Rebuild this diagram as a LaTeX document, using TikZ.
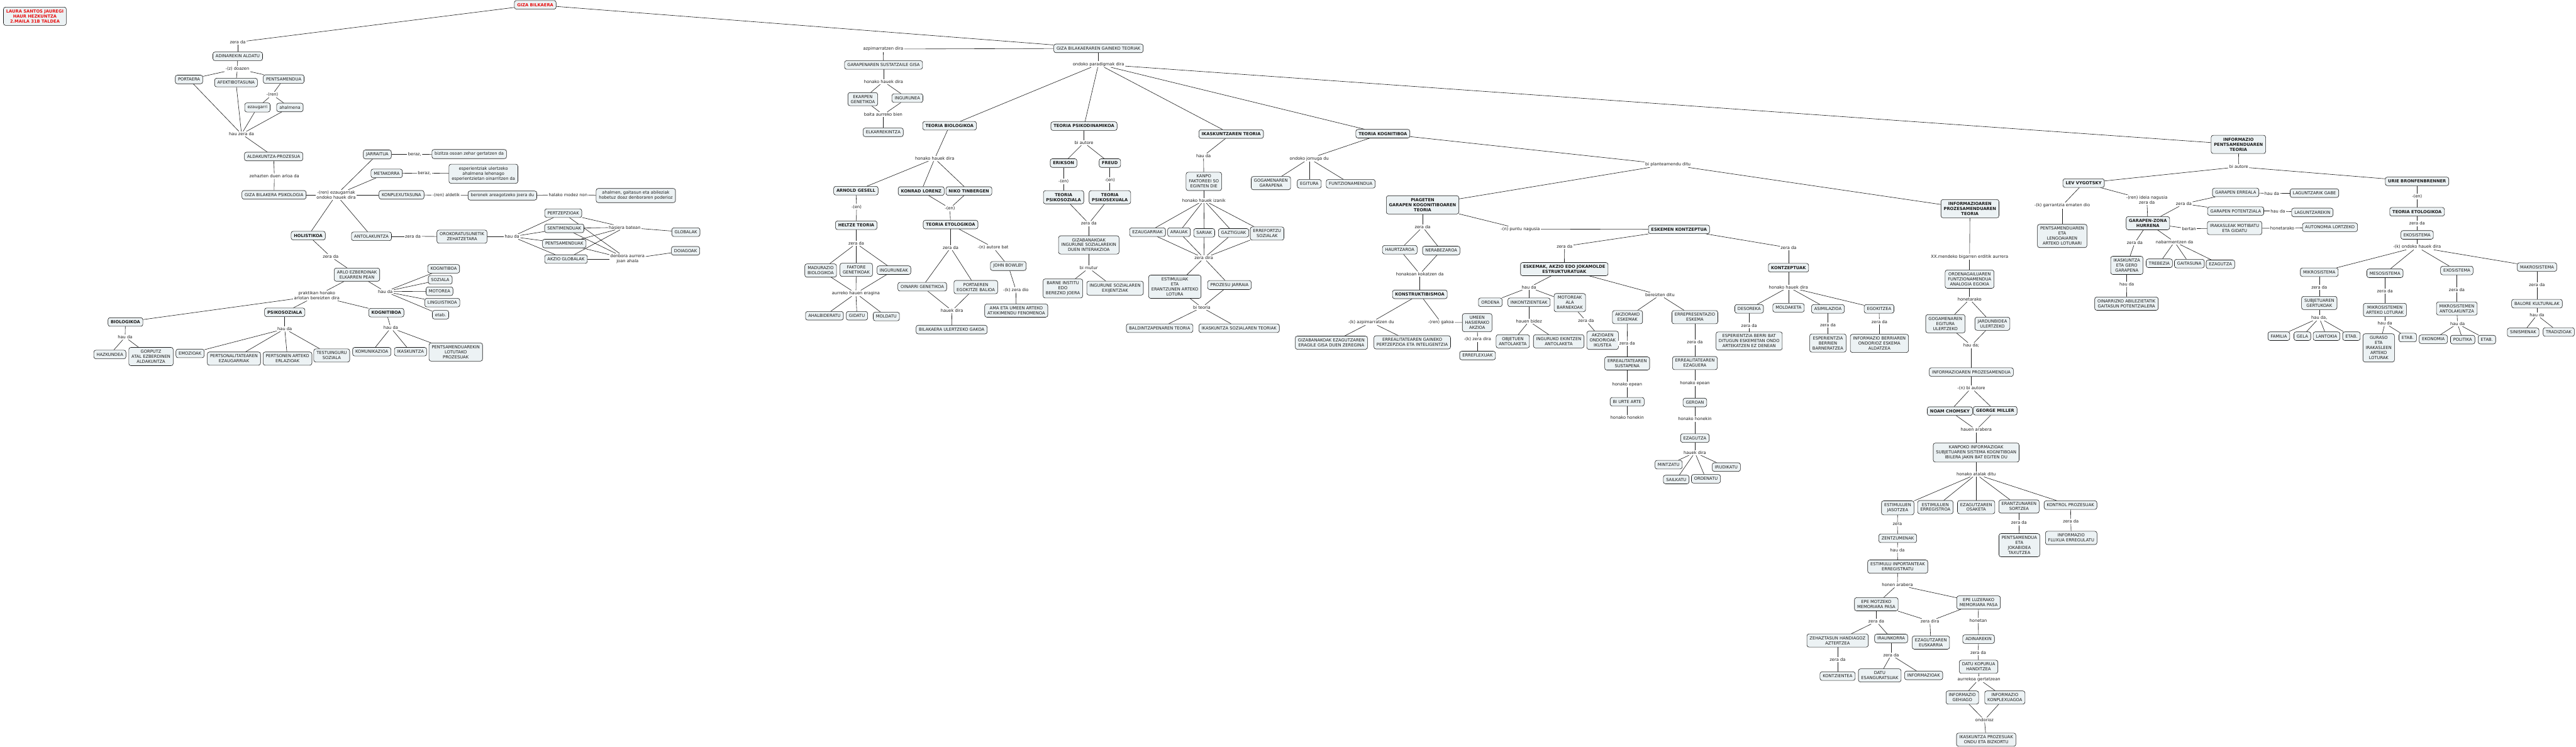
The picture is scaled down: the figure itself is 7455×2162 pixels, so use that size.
\documentclass[tikz,border=0pt]{standalone}
\usepackage{fontspec}
\setmainfont{DejaVu Sans}
\usetikzlibrary{backgrounds}
\definecolor{cfill}{RGB}{236,242,244}
\definecolor{lred}{RGB}{232,16,16}
\definecolor{ink}{RGB}{25,25,25}
\begin{document}
\fontsize{12.2}{14.5}\selectfont
\begin{tikzpicture}[x=1pt,y=-1pt,
  cn/.style={draw=ink, fill=cfill, rounded corners=6pt, inner xsep=8pt, inner ysep=7.3pt, minimum height=25pt, align=center, line width=1.1pt, text=ink},
  bn/.style={cn, font=\bfseries},
  lb/.style={fill=white, inner sep=2.5pt, align=center, text=ink},
  ed/.style={draw=ink, line width=1.1pt}]
\useasboundingbox (0,0) rectangle (7455,2162);
% ---------- legend and root
\node[cn, text=lred, font=\bfseries] (leg) at (101,47) {LAURA SANTOS JAUREGI\\HAUR HEZKUNTZA\\2.MAILA 31B TALDEA};
\node[cn, text=lred, font=\bfseries] (root) at (1549,14) {GIZA BILKAERA};
% ---------- left branch
\node[lb] (l1) at (688,122) {zera da};
\node[cn] (adin) at (688,163) {ADINAREKIN ALDATU};
\node[lb] (l2) at (687,199) {-(z) doazen};
\node[cn] (port) at (547,230) {PORTAERA};
\node[cn] (afek) at (683,239) {AFEKTIBOTASUNA};
\node[cn] (pents) at (821,229) {PENTSAMENDUA};
\node[lb] (l3) at (788,274) {-(ren)};
\node[cn] (ezau) at (745,311) {ezaugarri};
\node[cn] (ahal) at (839,311) {ahalmena};
\node[lb] (l4) at (699,388) {hau zera da};
\node[cn] (aldak) at (792,453) {ALDAKUNTZA-PROZESUA};
\node[lb] (l5) at (794,510) {zehazten duen arloa da};
\node[cn] (gbp) at (793,564) {GIZA BILAKERA PSIKOLOGIA};
\node[lb] (l6) at (973,564) {-(ren) ezaugarriak\\ondoko hauek dira};
\node[bn] (holis) at (892,682) {HOLISTIKOA};
\node[cn] (jarr) at (1092,447) {JARRAITUA};
\node[lb] (l7) at (1200,447) {beraz,};
\node[cn] (biz) at (1358,446) {bizitza osoan zehar gertatzen da};
\node[cn] (meta) at (1119,502) {METAKORRA};
\node[lb] (l8) at (1228,501) {beraz,};
\node[cn] (esper) at (1399,503) {esperientziak ulertzeko\\ahalmena lehenago\\esperientzietan oinarritzen da};
\node[cn] (konp) at (1162,564) {KONPLEXUTASUNA};
\node[lb] (l9) at (1291,565) {-(ren) aldetik};
\node[cn] (beron) at (1454,566) {beronek areagotzeko joera du};
\node[lb] (l10) at (1644,564) {halako modez non};
\node[cn] (ahalm) at (1840,566) {ahalmen, gaitasun eta abileziak\\hobetuz doaz denboraren poderioz};
\node[cn] (antol) at (1075,684) {ANTOLAKUNTZA};
\node[lb] (l11) at (1195,684) {zera da};
\node[cn] (orok) at (1337,685) {OROKORATUSUNETIK\\ZEHATZETARA};
\node[lb] (l12) at (1482,685) {hau da};
\node[cn] (pertz) at (1630,617) {PERTZEPZIOAK};
\node[cn] (senti) at (1633,661) {SENTIMENDUAK};
\node[cn] (pentsk) at (1633,705) {PENTSAMENDUAK};
\node[cn] (akzio) at (1638,750) {AKZIO GLOBALAK};
\node[lb] (l13) at (1808,658) {hasiera batean};
\node[cn] (glob) at (1985,672) {GLOBALAK};
\node[lb] (l14) at (1816,750) {denbora aurrera\\joan ahala};
\node[cn] (doia) at (1984,726) {DOIAGOAK};
\node[lb] (l15) at (957,743) {zera da};
\node[cn] (arlo) at (1033,795) {ARLO EZBERDINAK\\ELKARREN PEAN};
\node[lb] (l16) at (1115,844) {hau da};
\node[cn] (kog1) at (1284,778) {KOGNITIBOA};
\node[cn] (soz) at (1274,810) {SOZIALA};
\node[cn] (moto) at (1272,843) {MOTOREA};
\node[cn] (ling) at (1280,876) {LINGUISTIKOA};
\node[cn] (etab1) at (1275,911) {etab.};
\node[lb] (l17) at (917,856) {praktikan honako\\arlotan bereizten dira};
\node[bn] (biol) at (363,932) {BIOLOGIKOA};
\node[lb] (l18) at (362,976) {hau da};
\node[cn] (hazk) at (318,1026) {HAZKUNDEA};
\node[cn] (gorp) at (437,1032) {GORPUTZ\\ATAL EZBERDINEN\\ALDAKUNTZA};
\node[bn] (psiko) at (824,904) {PSIKOSOZIALA};
\node[lb] (l19) at (824,952) {hau da};
\node[cn] (emoz) at (550,1023) {EMOZIOAK};
\node[cn] (perts) at (677,1038) {PERTSONALITATEAREN\\EZAUGARRIAK};
\node[cn] (pertsa) at (832,1038) {PERTSONEN ARTEKO\\ERLAZIOAK};
\node[cn] (testu) at (960,1029) {TESTUINGURU\\SOZIALA};
\node[bn] (kog2) at (1118,905) {KOGNITIBOA};
\node[lb] (l20) at (1131,949) {hau da};
\node[cn] (komu) at (1076,1018) {KOMUNIKAZIOA};
\node[cn] (ikas) at (1188,1018) {IKASKUNTZA};
\node[cn] (pentsl) at (1319,1019) {PENTSAMENDUAREKIN\\LOTUTAKO\\PROZESUAK};
% ---------- middle
\node[cn] (gbgt) at (3179,140) {GIZA BILAKAERAREN GAINEKO TEORIAK};
\node[lb] (m1) at (2556,142) {azpimarratzen dira};
\node[cn] (gss) at (2557,188) {GARAPENAREN SUSTATZAILE GISA};
\node[lb] (m2) at (2557,236) {honako hauek dira};
\node[cn] (ekar) at (2497,287) {EKARPEN\\GENETIKOA};
\node[cn] (ingu) at (2626,284) {INGURUNEA};
\node[lb] (m3) at (2556,332) {baita aurreko bien};
\node[cn] (elkar) at (2556,383) {ELKARREKINTZA};
\node[lb] (m4) at (3179,186) {ondoko paradigmak dira};
\node[bn] (tbio) at (2748,364) {TEORIA BIOLOGIKOA};
\node[lb] (m5) at (2705,459) {honako hauek dira};
\node[bn] (arn) at (2477,552) {ARNOLD GESELL};
\node[bn] (kon) at (2666,553) {KONRAD LORENZ};
\node[bn] (nik) at (2804,553) {NIKO TINBERGEN};
\node[lb] (m6) at (2479,599) {-(en)};
\node[lb] (m7) at (2749,603) {-(en)};
\node[bn] (helt) at (2478,652) {HELTZE TEORIA};
\node[bn] (teto) at (2751,650) {TEORIA ETOLOGIKOA};
\node[lb] (m8) at (2478,705) {zera da};
\node[cn] (madu) at (2375,783) {MADURAZIO\\BIOLOGIKOA};
\node[cn] (fakt) at (2478,781) {FAKTORE\\GENETIKOAK};
\node[cn] (ingk) at (2587,782) {INGURUNEAK};
\node[lb] (m9) at (2477,849) {aurreko hauen eragina};
\node[cn] (ahalb) at (2386,914) {AHALBIDERATU};
\node[cn] (gida) at (2480,914) {GIDATU};
\node[cn] (mold) at (2565,916) {MOLDATU};
\node[lb] (m10) at (2751,717) {zera da};
\node[lb] (m11) at (2874,716) {-(n) autore bat};
\node[cn] (oina) at (2669,830) {OINARRI GENETIKOA};
\node[cn] (porte) at (2824,831) {PORTAEREN\\EGOKITZE BALIOA};
\node[lb] (m12) at (2755,899) {hauek dira};
\node[cn] (bilak) at (2754,954) {BILAKAERA ULERTZEKO GAKOA};
\node[cn] (bowl) at (2918,770) {JOHN BOWLBY};
\node[lb] (m13) at (2940,839) {-(k) zera dio};
\node[cn] (ama) at (2941,899) {AMA ETA UMEEN ARTEKO\\ATXIKIMENDU FENOMENOA};
\node[bn] (tpsi) at (3137,365) {TEORIA PSIKODINAMIKOA};
\node[lb] (m14) at (3137,413) {bi autore};
\node[bn] (erik) at (3078,472) {ERIKSON};
\node[bn] (freud) at (3212,472) {FREUD};
\node[lb] (m15) at (3078,525) {-(en)};
\node[lb] (m16) at (3212,522) {-(en)};
\node[bn] (tpsz) at (3078,571) {TEORIA\\PSIKOSOZIALA};
\node[bn] (tpsx) at (3212,571) {TEORIA\\PSIKOSEXUALA};
\node[lb] (m17) at (3151,647) {zera da};
\node[cn] (gizi) at (3151,709) {GIZABANAKOAK\\INGURUNE SOZIALAREKIN\\DUEN INTERAKZIOA};
\node[lb] (m18) at (3151,776) {bi mutur};
\node[cn] (barne) at (3076,835) {BARNE INSTITU\\EDO\\BEREZKO JOERA};
\node[cn] (ingsoz) at (3227,834) {INGURUNE SOZIALAREN\\EXIJENTZIAK};
\node[bn] (ikt) at (3563,388) {IKASKUNTZAREN TEORIA};
\node[lb] (m19) at (3483,451) {hau da};
\node[cn] (kanpo) at (3484,525) {KANPO\\FAKTOREEI SO\\EGINTEN DIE};
\node[lb] (m20) at (3484,580) {honako hauek izanik};
\node[cn] (ezg) at (3321,672) {EZAUGARRIAK};
\node[cn] (arau) at (3412,672) {ARAUAK};
\node[cn] (sari) at (3485,674) {SARIAK};
\node[cn] (gazt) at (3570,674) {GAZTIGUAK};
\node[cn] (erref) at (3667,676) {ERREFORTZU\\SOZIALAK};
\node[lb] (m21) at (3484,747) {zera dira};
\node[cn] (estim) at (3400,830) {ESTIMULUAK\\ETA\\ERANTZUNEN ARTEKO\\LOTURA};
\node[cn] (proz) at (3558,825) {PROZESU JARRAIA};
\node[lb] (m22) at (3478,890) {bi teoria};
\node[cn] (bald) at (3356,950) {BALDINTZAPENAREN TEORIA};
\node[cn] (ikss) at (3586,950) {IKASKUNTZA SOZIALAREN TEORIAK};
\node[bn] (tkog) at (4002,387) {TEORIA KOGNITIBOA};
\node[lb] (m23) at (3789,459) {ondoko jomuga du};
\node[cn] (goga) at (3678,530) {GOGAMENAREN\\GARAPENA};
\node[cn] (egit) at (3789,532) {EGITURA};
\node[cn] (funt) at (3909,532) {FUNTZIONAMENDUA};
\node[lb] (m24) at (4827,476) {bi planteamendu ditu};
\node[bn] (piag) at (4117,593) {PIAGETEN\\GARAPEN KOGONITIBOAREN\\TEORIA};
\node[lb] (m25) at (4117,657) {zera da};
\node[cn] (haur) at (4051,723) {HAURTZAROA};
\node[cn] (nera) at (4171,725) {NERABEZAROA};
\node[lb] (m26) at (4109,793) {honakoan kokatzen da};
\node[bn] (kons) at (4109,852) {KONSTRUKTIBISMOA};
\node[lb] (m27) at (3968,933) {-(k) azpimarratzen du};
\node[cn] (gizez) at (3853,992) {GIZABANAKOAK EZAGUTZAREN\\ERAGILE GISA DUEN ZEREGINA};
\node[cn] (errg) at (4087,991) {ERREALITATEAREN GAINEKO\\PERTZEPZIOA ETA INTELIGENTZIA};
\node[lb] (m28) at (4170,933) {-(ren) gakoa};
\node[cn] (umeen) at (4275,934) {UMEEN\\HASIERAKO\\AKZIOA};
\node[lb] (m29) at (4276,982) {-(k) zera dira};
\node[cn] (errefl) at (4276,1029) {ERREFLEXUAK};
\node[lb] (m30) at (4400,663) {-(n) puntu nagusia};
\node[bn] (eskk) at (4859,664) {ESKEMEN KONTZEPTUA};
\node[lb] (m31) at (4528,713) {zera da};
\node[bn] (eskem) at (4527,779) {ESKEMAK, AKZIO EDO JOKAMOLDE\\ESTRUKTURATUAK};
\node[lb] (m32) at (4425,832) {hau da};
\node[cn] (orde) at (4313,875) {ORDENA};
\node[cn] (inko) at (4425,875) {INKONTZIENTEAK};
\node[cn] (motor) at (4543,876) {MOTOREAK\\ALA\\BARNEKOAK};
\node[lb] (m33) at (4425,930) {hauen bidez};
\node[cn] (objt) at (4378,988) {OBJETUEN\\ANTOLAKETA};
\node[cn] (ingur) at (4511,988) {INGURUKO EKINTZEN\\ANTOLAKETA};
\node[lb] (m34) at (4590,929) {zera da};
\node[cn] (akond) at (4638,985) {AKZIOAEN\\ONDORIOAK\\IKUSTEA};
\node[lb] (m35) at (4804,854) {bereizten ditu};
\node[cn] (akzr) at (4710,918) {AKZIORAKO\\ESKEMAK};
\node[lb] (m36) at (4709,994) {zera da};
\node[cn] (errs) at (4709,1052) {ERREALITATEAREN\\SUSTAPENA};
\node[lb] (m37) at (4709,1113) {honako epean};
\node[cn] (biurt) at (4709,1163) {BI URTE ARTE};
\node[lb] (m38) at (4709,1209) {honako honekin};
\node[cn] (errep) at (4905,918) {ERREPRESENTAZIO\\ESKEMA};
\node[lb] (m40) at (4905,991) {zera da};
\node[cn] (erre) at (4905,1051) {ERREALITATEAREN\\EZAGUERA};
\node[lb] (m41) at (4905,1109) {honako epean};
\node[cn] (gero) at (4905,1165) {GEROAN};
\node[lb] (m42) at (4905,1213) {honako honekin};
\node[cn] (ezag) at (4905,1268) {EZAGUTZA};
\node[lb] (m43) at (4905,1310) {hauek dira};
\node[cn] (mintz) at (4829,1345) {MINTZATU};
\node[cn] (sail) at (4851,1388) {SAILKATU};
\node[cn] (ordn) at (4937,1386) {ORDENATU};
\node[cn] (irud) at (4996,1352) {IRUDIKATU};
\node[lb] (m44) at (5176,717) {zera da};
\node[bn] (kontz) at (5176,775) {KONTZEPTUAK};
\node[lb] (m45) at (5176,831) {honako hauek dira};
\node[cn] (deso) at (5062,894) {DESOREKA};
\node[cn] (moldk) at (5176,891) {MOLDAKETA};
\node[cn] (asim) at (5290,894) {ASIMILAZIOA};
\node[cn] (egok) at (5438,894) {EGOKITZEA};
\node[lb] (m46) at (5062,942) {zera da};
\node[cn] (espb) at (5062,987) {ESPERIENTZIA BERRI BAT\\DITUGUN ESKEMETAN ONDO\\ARTEKATZEN EZ DENEAN};
\node[lb] (m47) at (5290,941) {zera da};
\node[cn] (espbr) at (5290,993) {ESPERIENTZIA\\BERRIEN\\BARNERATZEA};
\node[lb] (m48) at (5439,931) {zera da};
\node[cn] (infb) at (5439,994) {INFORMAZIO BERRIAREN\\ONDORIOZ ESKEMA\\ALDATZEA};
% ---------- information processing
\node[bn] (ipt) at (5701,604) {INFORMAZIOAREN\\PROZESAMENDUAREN\\TEORIA};
\node[lb] (r1) at (5700,743) {XX.mendeko bigarren erditik aurrera};
\node[cn] (orden) at (5700,808) {ORDENAGAILUAREN\\FUNTZIONAMENDUA\\ANALOGIA EGOKIA};
\node[lb] (r2) at (5700,866) {honetarako};
\node[cn] (gogeg) at (5630,937) {GOGAMENAREN\\EGITURA\\ULERTZEKO};
\node[cn] (jard) at (5766,937) {JARDUNBIDEA\\ULERTZEKO};
\node[lb] (r3) at (5705,1000) {hau da;};
\node[cn] (infp) at (5705,1077) {INFORMAZIOAREN PROZESAMENDUA};
\node[lb] (r4) at (5705,1123) {-(n) bi autore};
\node[bn] (noam) at (5643,1190) {NOAM CHOMSKY};
\node[bn] (geor) at (5774,1189) {GEORGE MILLER};
\node[lb] (r5) at (5719,1244) {hauen arabera};
\node[cn] (kanpok) at (5719,1310) {KANPOKO INFORMAZIOAK\\SUBJETUAREN SISTEMA KOGNITIBOAN\\IBILERA JAKIN BAT EGITEN DU};
\node[lb] (r6) at (5719,1373) {honako atalak ditu};
\node[cn] (estj) at (5492,1470) {ESTIMULUEN\\JASOTZEA};
\node[cn] (este) at (5601,1468) {ESTIMULUEN\\ERREGISTROA};
\node[cn] (ezos) at (5719,1468) {EZAGUTZAREN\\OSAKETA};
\node[cn] (eran) at (5843,1466) {ERANTZUNAREN\\SORTZEA};
\node[cn] (kontr) at (5992,1462) {KONTROL PROZESUAK};
\node[lb] (r7) at (5491,1518) {zera};
\node[cn] (zent) at (5492,1558) {ZENTZUMENAK};
\node[lb] (r8) at (5491,1592) {hau da};
\node[cn] (estin) at (5492,1640) {ESTIMULU INPORTANTEAK\\ERREGISTRATU};
\node[lb] (r9) at (5491,1693) {honen arabera};
\node[cn] (epem) at (5430,1749) {EPE MOTZEKO\\MEMORIARA PASA};
\node[cn] (epel) at (5726,1744) {EPE LUZERAKO\\MEMORIARA PASA};
\node[lb] (r10) at (5430,1799) {zera da};
\node[lb] (r11) at (5585,1798) {zera dira};
\node[lb] (r12) at (5725,1796) {honetan};
\node[cn] (zeha) at (5318,1854) {ZEHAZTASUN HANDIAGOZ\\AZTERTZEA};
\node[cn] (irau) at (5473,1848) {IRAUNKORRA};
\node[cn] (ezeu) at (5588,1860) {EZAGUTZAREN\\EUSKARRIA};
\node[cn] (adink) at (5726,1850) {ADINAREKIN};
\node[lb] (r13) at (5318,1909) {zera da};
\node[lb] (r14) at (5473,1896) {zera da};
\node[lb] (r15) at (5725,1889) {zera da};
\node[cn] (kontzi) at (5318,1957) {KONTZIENTEA};
\node[cn] (datue) at (5440,1955) {DATU\\ESANGURATSUAK};
\node[cn] (infk) at (5567,1955) {INFORMAZIOAK};
\node[cn] (datuk) at (5726,1930) {DATU KOPURUA\\HANDITZEA};
\node[lb] (r16) at (5727,1966) {aurrekoa gertatzean};
\node[cn] (infg) at (5679,2019) {INFORMAZIO\\GEHIAGO};
\node[cn] (infko) at (5802,2019) {INFORMAZIO\\KONPLEXUAGOA};
\node[lb] (r17) at (5743,2084) {ondorioz};
\node[cn] (ikasp) at (5748,2141) {IKASKUNTZA PROZESUAK\\ONDU ETA BIZKORTU};
\node[lb] (r18) at (5843,1513) {zera da};
\node[cn] (pentj) at (5844,1578) {PENTSAMENDUA\\ETA\\JOKABIDEA\\TAXUTZEA};
\node[lb] (r19) at (5993,1509) {zera da};
\node[cn] (inffl) at (5994,1557) {INFORMAZIO\\FLUXUA ERREGULATU};
% ---------- right
\node[bn] (ipent) at (6478,418) {INFORMAZIO\\PENTSAMENDUAREN\\TEORIA};
\node[lb] (s1) at (6479,483) {bi autore};
\node[bn] (lev) at (6030,530) {LEV VYGOTSKY};
\node[lb] (s2) at (5968,595) {-(k) garrantzia ematen dio};
\node[cn] (pentl) at (5968,683) {PENTSAMENDUAREN\\ETA\\LENGOAIAREN\\ARTEKO LOTURARI};
\node[lb] (s3) at (6213,579) {-(ren) ideia nagusia\\zera da};
\node[bn] (gzh) at (6216,646) {GARAPEN-ZONA\\HURRENA};
\node[lb] (s4) at (6178,703) {zera da};
\node[cn] (ikge) at (6155,768) {IKASKUNTZA\\ETA GERO\\GARAPENA};
\node[lb] (s5) at (6155,823) {hau da};
\node[cn] (oinar) at (6154,879) {OINARRIZKO ABILEZIETATIK\\GAITASUN POTENTZIALERA};
\node[lb] (s6) at (6293,700) {nabarmentzen da};
\node[cn] (treb) at (6249,762) {TREBEZIA};
\node[cn] (gait) at (6336,763) {GAITASUNA};
\node[cn] (ezgt) at (6426,765) {EZAGUTZA};
\node[lb] (s7) at (6320,590) {zera da};
\node[cn] (gerr) at (6470,557) {GARAPEN ERREALA};
\node[lb] (s8) at (6575,560) {hau da};
\node[cn] (lagg) at (6698,559) {LAGUNTZARIK GABE};
\node[cn] (gpot) at (6470,611) {GARAPEN POTENTZIALA};
\node[lb] (s9) at (6592,611) {hau da};
\node[cn] (lagk) at (6692,615) {LAGUNTZAREKIN};
\node[lb] (s10) at (6335,662) {bertan};
\node[cn] (irak) at (6467,660) {IRAKASLEAK MOTIBATU\\ETA GIDATU};
\node[lb] (s11) at (6605,661) {honetarako};
\node[cn] (auto) at (6743,658) {AUTONOMIA LORTZEKO};
\node[bn] (urie) at (6995,525) {URIE BRONFENBRENNER};
\node[lb] (s12) at (6995,568) {-(en)};
\node[bn] (teto2) at (6995,613) {TEORIA ETOLOGIKOA};
\node[lb] (s13) at (6995,647) {zera da};
\node[cn] (ekos) at (6995,680) {EKOSISTEMA};
\node[lb] (s14) at (6995,715) {-(k) ondoko hauek dira};
\node[cn] (mikr) at (6712,788) {MIKROSISTEMA};
\node[cn] (meso) at (6902,791) {MESOSISTEMA};
\node[cn] (exo) at (7110,783) {EXOSISTEMA};
\node[cn] (makr) at (7342,773) {MAKROSISTEMA};
\node[lb] (z1) at (6712,832) {zera da};
\node[lb] (z2) at (6902,843) {zera da};
\node[lb] (z3) at (7110,839) {zera da};
\node[lb] (z4) at (7342,825) {zera da};
\node[cn] (subj) at (6712,877) {SUBJETUAREN\\GERTUKOAK};
\node[cn] (mikart) at (6902,897) {MIKROSISTEMEN\\ARTEKO LOTURAK};
\node[cn] (mikant) at (7110,893) {MIKROSISTEMEN\\ANTOLAKUNTZA};
\node[cn] (balor) at (7342,879) {BALORE KULTURALAK};
\node[lb] (h1) at (6712,920) {hau da,};
\node[lb] (h2) at (6902,936) {hau da};
\node[lb] (h3) at (7112,937) {hau da};
\node[lb] (h4) at (7342,912) {hau da};
\node[cn] (fami) at (6595,973) {FAMILIA};
\node[cn] (gela) at (6663,973) {GELA};
\node[cn] (lant) at (6733,973) {LANTOKIA};
\node[cn] (etab2) at (6805,973) {ETAB.};
\node[cn] (guras) at (6884,1007) {GURASO\\ETA\\IRAKASLEEN\\ARTEKO\\LOTURAK};
\node[cn] (etab3) at (6968,977) {ETAB.};
\node[cn] (ekon) at (7042,982) {EKONOMIA};
\node[cn] (polit) at (7127,983) {POLITIKA};
\node[cn] (etab4) at (7197,983) {ETAB.};
\node[cn] (sinis) at (7302,962) {SINISMENAK};
\node[cn] (tradi) at (7405,961) {TRADIZIOAK};
% ---------- connectors
\begin{pgfonlayer}{background}
\fill[white] (0,0) rectangle (7455,2162);
\draw[ed] (root) edge (l1) (l1) edge (adin) (adin) edge (l2);
\draw[ed] (l2) edge (port) edge (afek) edge (pents);
\draw[ed] (pents) edge (l3) (l3) edge (ezau) edge (ahal);
\draw[ed] (l4) edge (port) edge (afek) edge (ezau) edge (ahal);
\draw[ed] (l4) edge (aldak) (aldak) edge (l5) (l5) edge (gbp) (gbp) edge (l6);
\draw[ed] (l6) edge (holis) edge (jarr) edge (meta) edge (konp) edge (antol);
\draw[ed] (jarr) edge (l7) (l7) edge (biz) (meta) edge (l8) (l8) edge (esper);
\draw[ed] (konp) edge (l9) (l9) edge (beron) (beron) edge (l10) (l10) edge (ahalm);
\draw[ed] (antol) edge (l11) (l11) edge (orok) (orok) edge (l12);
\draw[ed] (l12) edge (pertz) edge (senti) edge (pentsk) edge (akzio);
\draw[ed] (l13) edge (pertz) edge (senti) edge (pentsk) edge (akzio) edge (glob);
\draw[ed] (l14) edge (pertz) edge (senti) edge (pentsk) edge (akzio) edge (doia);
\draw[ed] (holis) edge (l15) (l15) edge (arlo) (arlo) edge (l16) (arlo) edge (l17);
\draw[ed] (l16) edge (kog1) edge (soz) edge (moto) edge (ling) edge (etab1);
\draw[ed] (l17) edge (biol) edge (psiko) edge (kog2);
\draw[ed] (biol) edge (l18) (l18) edge (hazk) edge (gorp);
\draw[ed] (psiko) edge (l19) (l19) edge (emoz) edge (perts) edge (pertsa) edge (testu);
\draw[ed] (kog2) edge (l20) (l20) edge (komu) edge (ikas) edge (pentsl);
% middle
\draw[ed] (root) edge (gbgt);
\draw[ed] (gbgt) edge (m1) (m1) edge (gss) (gss) edge (m2) (m2) edge (ekar) edge (ingu);
\draw[ed] (m3) edge (ekar) edge (ingu) edge (elkar);
\draw[ed] (gbgt) edge (m4) (m4) edge (tbio) edge (tpsi) edge (ikt) edge (tkog) edge (ipent);
\draw[ed] (tbio) edge (m5) (m5) edge (arn) edge (kon) edge (nik);
\draw[ed] (arn) edge (m6) (m6) edge (helt) (helt) edge (m8);
\draw[ed] (m8) edge (madu) edge (fakt) edge (ingk);
\draw[ed] (m9) edge (madu) edge (fakt) edge (ingk) edge (ahalb) edge (gida) edge (mold);
\draw[ed] (m7) edge (kon) edge (nik) edge (teto);
\draw[ed] (teto) edge (m10) (m10) edge (oina) edge (porte);
\draw[ed] (m12) edge (oina) edge (porte) edge (bilak);
\draw[ed] (teto) edge (m11) (m11) edge (bowl) (bowl) edge (m13) (m13) edge (ama);
\draw[ed] (tpsi) edge (m14) (m14) edge (erik) edge (freud);
\draw[ed] (erik) edge (m15) (m15) edge (tpsz) (freud) edge (m16) (m16) edge (tpsx);
\draw[ed] (m17) edge (tpsz) edge (tpsx) edge (gizi) (gizi) edge (m18) (m18) edge (barne) edge (ingsoz);
\draw[ed] (ikt) edge (m19) (m19) edge (kanpo) (kanpo) edge (m20);
\draw[ed] (m20) edge (ezg) edge (arau) edge (sari) edge (gazt) edge (erref);
\draw[ed] (m21) edge (ezg) edge (arau) edge (sari) edge (gazt) edge (erref) edge (estim) edge (proz);
\draw[ed] (m22) edge (estim) edge (proz) edge (bald) edge (ikss);
\draw[ed] (tkog) edge (m23) (m23) edge (goga) edge (egit) edge (funt);
\draw[ed] (tkog) edge (m24) (m24) edge (piag) edge (ipt);
\draw[ed] (piag) edge (m25) (m25) edge (haur) edge (nera);
\draw[ed] (m26) edge (haur) edge (nera) edge (kons);
\draw[ed] (kons) edge (m27) (m27) edge (gizez) edge (errg);
\draw[ed] (kons) edge (m28) (m28) edge (umeen) (umeen) edge (m29) (m29) edge (errefl);
\draw[ed] (piag) edge (m30) (m30) edge (eskk);
\draw[ed] (eskk) edge (m31) (m31) edge (eskem) (eskem) edge (m32);
\draw[ed] (m32) edge (orde) edge (inko) edge (motor);
\draw[ed] (inko) edge (m33) (m33) edge (objt) edge (ingur);
\draw[ed] (motor) edge (m34) (m34) edge (akond);
\draw[ed] (eskem) edge (m35) (m35) edge (akzr) edge (errep);
\draw[ed] (akzr) edge (m36) (m36) edge (errs) (errs) edge (m37) (m37) edge (biurt) (biurt) edge (m38);
\draw[ed] (errep) edge (m40) (m40) edge (erre) (erre) edge (m41) (m41) edge (gero) (gero) edge (m42) (m42) edge (ezag) (ezag) edge (m43);
\draw[ed] (m43) edge (mintz) edge (sail) edge (ordn) edge (irud);
\draw[ed] (eskk) edge (m44) (m44) edge (kontz) (kontz) edge (m45);
\draw[ed] (m45) edge (deso) edge (moldk) edge (asim) edge (egok);
\draw[ed] (deso) edge (m46) (m46) edge (espb) (asim) edge (m47) (m47) edge (espbr) (egok) edge (m48) (m48) edge (infb);
% information processing
\draw[ed] (ipt) edge (r1) (r1) edge (orden) (orden) edge (r2) (r2) edge (gogeg) edge (jard);
\draw[ed] (r3) edge (gogeg) edge (jard) edge (infp) (infp) edge (r4) (r4) edge (noam) edge (geor);
\draw[ed] (r5) edge (noam) edge (geor) edge (kanpok) (kanpok) edge (r6);
\draw[ed] (r6) edge (estj) edge (este) edge (ezos) edge (eran) edge (kontr);
\draw[ed] (estj) edge (r7) (r7) edge (zent) (zent) edge (r8) (r8) edge (estin) (estin) edge (r9);
\draw[ed] (r9) edge (epem) edge (epel);
\draw[ed] (epem) edge (r10) (r10) edge (zeha) edge (irau);
\draw[ed] (r11) edge (epem) edge (epel) edge (ezeu);
\draw[ed] (epel) edge (r12) (r12) edge (adink) (adink) edge (r15) (r15) edge (datuk) (datuk) edge (r16);
\draw[ed] (r16) edge (infg) edge (infko) (r17) edge (infg) edge (infko) edge (ikasp);
\draw[ed] (zeha) edge (r13) (r13) edge (kontzi) (irau) edge (r14) (r14) edge (datue) edge (infk);
\draw[ed] (eran) edge (r18) (r18) edge (pentj) (kontr) edge (r19) (r19) edge (inffl);
% right
\draw[ed] (ipent) edge (s1) (s1) edge (lev) edge (urie);
\draw[ed] (lev) edge (s2) (s2) edge (pentl) (lev) edge (s3) (s3) edge (gzh);
\draw[ed] (gzh) edge (s4) (s4) edge (ikge) (ikge) edge (s5) (s5) edge (oinar);
\draw[ed] (gzh) edge (s6) (s6) edge (treb) edge (gait) edge (ezgt);
\draw[ed] (gzh) edge (s7) (s7) edge (gerr) edge (gpot);
\draw[ed] (gerr) edge (s8) (s8) edge (lagg) (gpot) edge (s9) (s9) edge (lagk);
\draw[ed] (gzh) edge (s10) (s10) edge (irak) (irak) edge (s11) (s11) edge (auto);
\draw[ed] (urie) edge (s12) (s12) edge (teto2) (teto2) edge (s13) (s13) edge (ekos) (ekos) edge (s14);
\draw[ed] (s14) edge (mikr) edge (meso) edge (exo) edge (makr);
\draw[ed] (mikr) edge (z1) (z1) edge (subj) (subj) edge (h1) (h1) edge (fami) edge (gela) edge (lant) edge (etab2);
\draw[ed] (meso) edge (z2) (z2) edge (mikart) (mikart) edge (h2) (h2) edge (guras) edge (etab3);
\draw[ed] (exo) edge (z3) (z3) edge (mikant) (mikant) edge (h3) (h3) edge (ekon) edge (polit) edge (etab4);
\draw[ed] (makr) edge (z4) (z4) edge (balor) (balor) edge (h4) (h4) edge (sinis) edge (tradi);
\end{pgfonlayer}
\end{tikzpicture}
\end{document}
